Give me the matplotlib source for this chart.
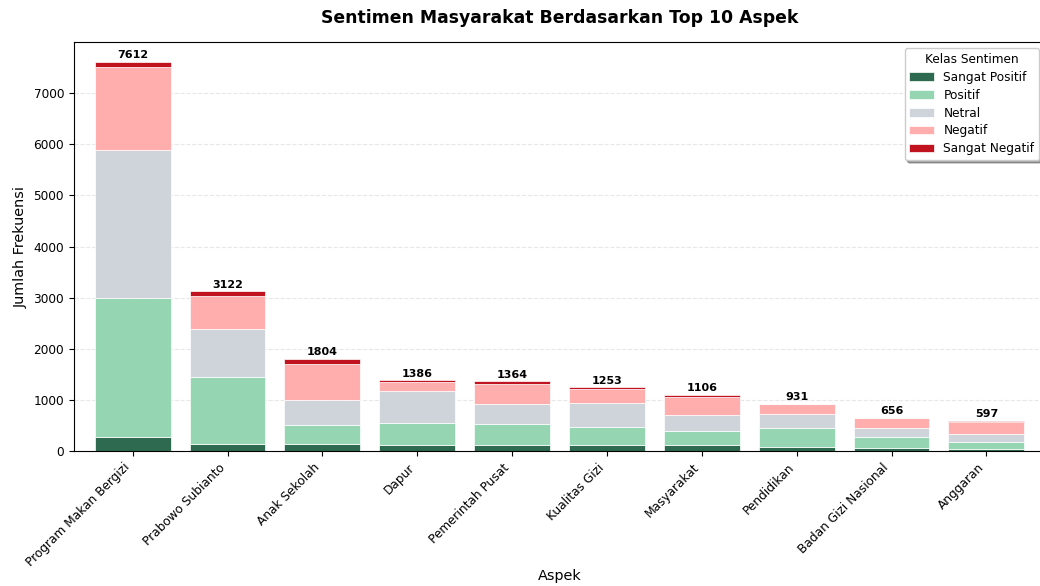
import matplotlib.pyplot as plt
import numpy as np

aspek = ["Program Makan Bergizi", "Prabowo Subianto", "Anak Sekolah", "Dapur",
         "Pemerintah Pusat", "Kualitas Gizi", "Masyarakat", "Pendidikan",
         "Badan Gizi Nasional", "Anggaran"]
sangat_positif = [270, 140, 150, 120, 130, 130, 115, 75, 55, 50]
positif = [2730, 1320, 370, 425, 410, 335, 275, 375, 220, 125]
netral = [2880, 920, 480, 625, 385, 470, 310, 270, 180, 160]
negatif = [1620, 650, 700, 190, 385, 290, 360, 200, 199, 245]
sangat_negatif = [112, 92, 104, 26, 54, 28, 46, 11, 2, 17]

kelas = ["Sangat Positif", "Positif", "Netral", "Negatif", "Sangat Negatif"]
warna = ["#2d6a4f", "#95d5b2", "#ced4da", "#ffadad", "#c1121f"]

series = [sangat_positif, positif, netral, negatif, sangat_negatif]

fig, ax = plt.subplots(figsize=(10.4, 5.86), dpi=100)
x = np.arange(len(aspek))
bottom = np.zeros(len(aspek))
for lab, vals, col in zip(kelas, series, warna):
    vals = np.array(vals, dtype=float)
    ax.bar(x, vals, 0.8, bottom=bottom, color=col, label=lab,
           edgecolor="white", linewidth=0.5)
    bottom += vals

for xi, tot in zip(x, bottom):
    ax.text(xi, tot + 30, f"{int(tot)}", ha="center", va="bottom",
            fontsize=8, fontweight="bold")

ax.set_xticks(x)
ax.set_xticklabels(aspek, rotation=45, ha="right")
ax.tick_params(labelsize=8.7)
ax.set_xlim(-0.62, 9.62)
ax.set_ylim(0, bottom.max() * 1.05)
ax.set_title("Sentimen Masyarakat Berdasarkan Top 10 Aspek",
             fontsize=12.4, fontweight="bold", pad=14)
ax.set_xlabel("Aspek", fontsize=10.4, labelpad=0)
ax.set_ylabel("Jumlah Frekuensi", fontsize=10.4)
ax.grid(axis="y", linestyle="--", alpha=0.3)
ax.set_axisbelow(True)
ax.legend(title="Kelas Sentimen", loc="upper right", shadow=True,
          fontsize=8.7, title_fontsize=8.7, labelspacing=0.4)

plt.subplots_adjust(left=0.071, right=1.005, top=0.928, bottom=0.230)
plt.savefig("out.png", dpi=100)
